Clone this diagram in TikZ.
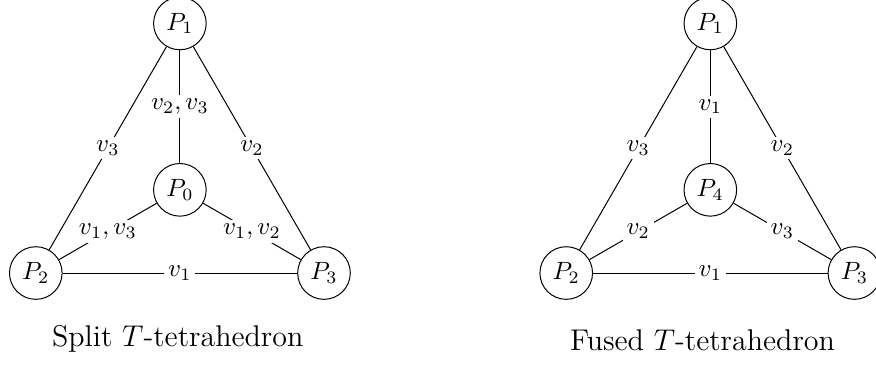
\documentclass[tikz,border=0pt]{standalone}
\usetikzlibrary{positioning,calc}

\begin{document}
\begin{tikzpicture}[line width=0.4pt,
                vert/.style={shape=circle,draw=black,minimum size=0.74cm,inner sep=1pt},
                lbl/.style={fill=white,inner sep=1.5pt}]
                \useasboundingbox (0,0) rectangle (12.32,5.12);
                % split tetrahedron
                \node[vert] (a0) at (2.53,2.45) {\(P_0\)};
                \node[vert] (a1) at ($(a0.center)+(90:2.34)$) {\(P_1\)};
                \node[vert] (a2) at ($(a0.center)+(210:2.34)$) {\(P_2\)};
                \node[vert] (a3) at ($(a0.center)+(330:2.34)$) {\(P_3\)};
                \draw (a1) -- node[lbl] {\(v_3\)} (a2);
                \draw (a1) -- node[lbl] {\(v_2\)} (a3);
                \draw (a2) -- node[lbl] {\(v_1\)} (a3);
                \draw (a1) -- node[lbl] {\(v_2,v_3\)} (a0);
                \draw (a0) -- node[lbl] {\(v_1,v_3\)} (a2);
                \draw (a0) -- node[lbl] {\(v_1,v_2\)} (a3);
                \node[font=\large] (A) at (2.50,0.35) {Split \(T\)-tetrahedron};
                % fused tetrahedron
                \node[vert] (b4) at (9.99,2.45) {\(P_4\)};
                \node[vert] (b1) at ($(b4.center)+(90:2.34)$) {\(P_1\)};
                \node[vert] (b2) at ($(b4.center)+(210:2.34)$) {\(P_2\)};
                \node[vert] (b3) at ($(b4.center)+(330:2.34)$) {\(P_3\)};
                \draw (b1) -- node[lbl] {\(v_3\)} (b2);
                \draw (b1) -- node[lbl] {\(v_2\)} (b3);
                \draw (b2) -- node[lbl] {\(v_1\)} (b3);
                \draw (b1) -- node[lbl] {\(v_1\)} (b4);
                \draw (b4) -- node[lbl] {\(v_2\)} (b2);
                \draw (b4) -- node[lbl] {\(v_3\)} (b3);
                \node[font=\large] (B) at (9.88,0.33) {Fused \(T\)-tetrahedron};
            \end{tikzpicture}
\end{document}
